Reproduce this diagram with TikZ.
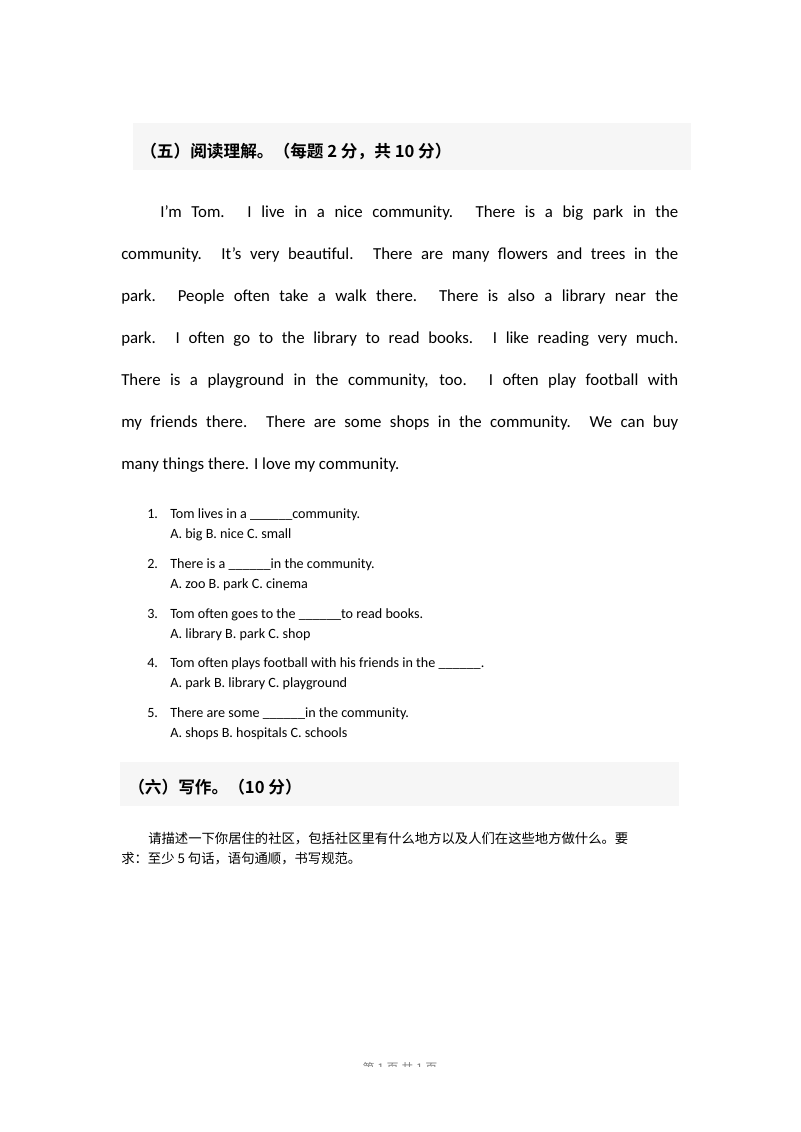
\documentclass[tikz,border=0pt]{standalone}
\usepackage{fontspec}
\setmainfont{Carlito}
\newfontfamily\cjk{Noto Sans CJK SC}
\newfontfamily\cjkb{Noto Sans CJK SC Bold}
\begin{document}
\begin{tikzpicture}[x=0.75pt,y=-0.75pt,
  para/.style={anchor=base west,inner sep=0,font=\fontsize{12.6pt}{14pt}\selectfont},
  q/.style={anchor=base west,inner sep=0,font=\fontsize{10.6pt}{12pt}\selectfont},
  head/.style={anchor=west,inner sep=0,font=\cjkb\fontsize{12.5pt}{14pt}\selectfont},
  band/.style={fill=gray!7,draw=none}]
\useasboundingbox (0,0) rectangle (800,1132);
\fill[band] (133,123) rectangle (691,170);
\fill[band] (120,762) rectangle (679,806);
\node[head] (h1) at (140,151) {（五）阅读理解。（每题 2 分，共 10 分）};
\node[head] (h2) at (128,787) {（六）写作。（10 分）};
\node[para] (p1) at (160,217) {\makebox[518\dimexpr0.75pt][s]{I'm Tom. I live in a nice community. There is a big park in the}};
\node[para] (p2) at (121,259) {\makebox[557\dimexpr0.75pt][s]{community. It's very beautiful. There are many flowers and trees in the}};
\node[para] (p3) at (121,301) {\makebox[557\dimexpr0.75pt][s]{park. People often take a walk there. There is also a library near the}};
\node[para] (p4) at (121,343) {\makebox[557\dimexpr0.75pt][s]{park. I often go to the library to read books. I like reading very much.}};
\node[para] (p5) at (121,385) {\makebox[557\dimexpr0.75pt][s]{There is a playground in the community, too. I often play football with}};
\node[para] (p6) at (121,427) {\makebox[557\dimexpr0.75pt][s]{my friends there. There are some shops in the community. We can buy}};
\node[para] (p7) at (121,469) {many things there. I love my community.};
\foreach \n/\y/\a/\b in {
 1/518/{Tom lives in a \_\_\_\_\_\_community.}/{A. big B. nice C. small},
 2/568/{There is a \_\_\_\_\_\_in the community.}/{A. zoo B. park C. cinema},
 3/618/{Tom often goes to the \_\_\_\_\_\_to read books.}/{A. library B. park C. shop},
 4/667/{Tom often plays football with his friends in the \_\_\_\_\_\_.}/{A. park B. library C. playground},
 5/717/{There are some \_\_\_\_\_\_in the community.}/{A. shops B. hospitals C. schools}}{
  \node[q] (n\n) at (147,\y) {\n.};
  \node[q] (qa\n) at (170,\y) {\a};
  \node[q] (qb\n) at (170,\y+20.5) {\b};
}
\node[anchor=base west,inner sep=0,font=\cjk\fontsize{10pt}{12pt}\selectfont] (c1) at (148,843) {请描述一下你居住的社区，包括社区里有什么地方以及人们在这些地方做什么。要};
\node[anchor=base west,inner sep=0,font=\cjk\fontsize{10pt}{12pt}\selectfont] (c2) at (121,863) {求：至少 5 句话，语句通顺，书写规范。};
\begin{scope}
\clip (0,1050) rectangle (800,1066);
\node[anchor=base,inner sep=0,font=\cjk\fontsize{9pt}{10pt}\selectfont,gray] (f) at (400,1072) {第 1 页 共 1 页};
\end{scope}
\end{tikzpicture}
\end{document}
